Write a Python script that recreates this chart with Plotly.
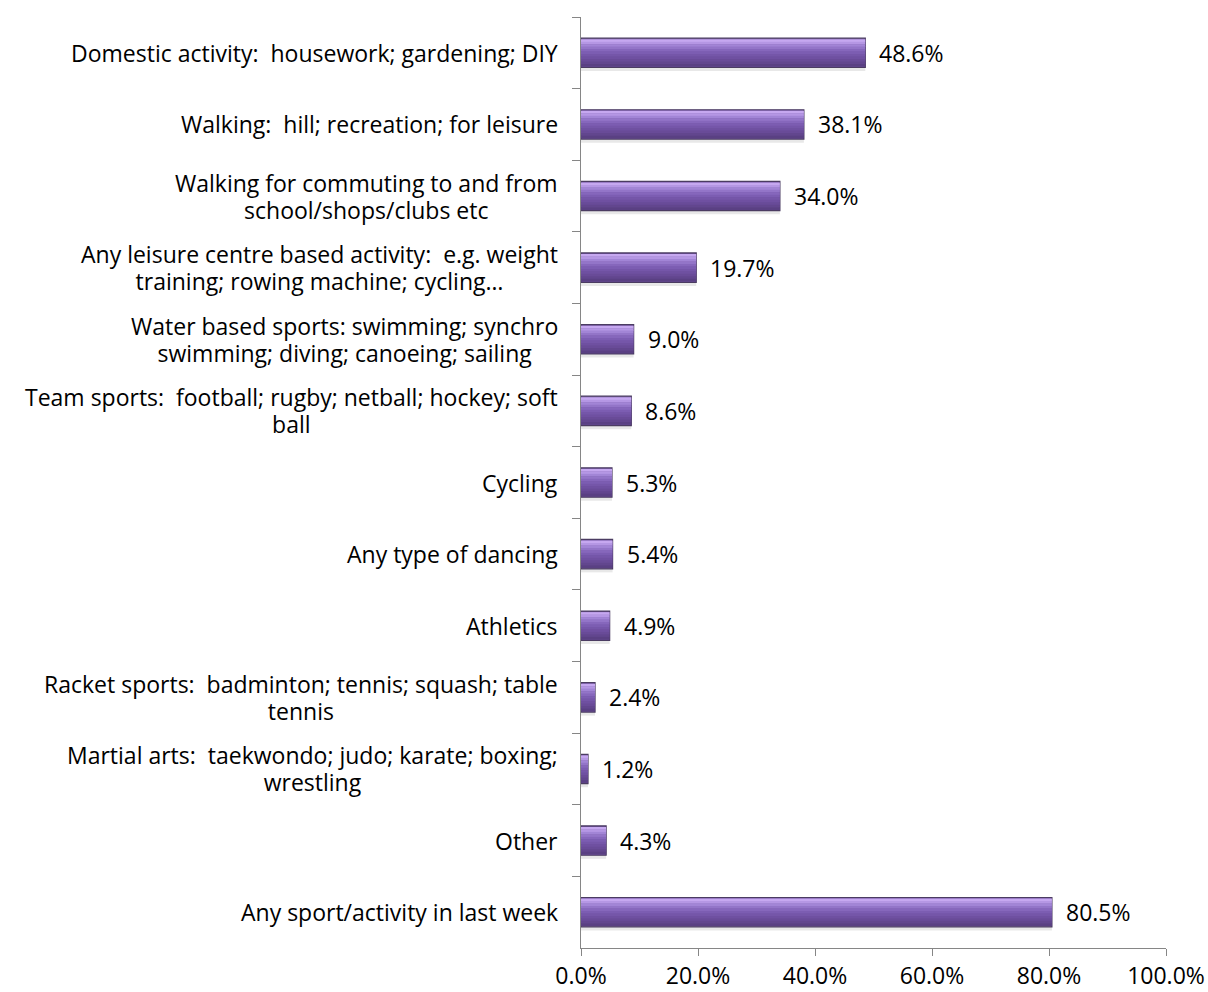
import plotly.graph_objects as go

# Activities, top to bottom
categories = [
    "Domestic activity:  housework; gardening; DIY",
    "Walking:  hill; recreation; for leisure",
    "Walking for commuting to and from<br>school/shops/clubs etc",
    "Any leisure centre based activity:  e.g. weight<br>training; rowing machine; cycling…",
    "Water based sports: swimming; synchro<br>swimming; diving; canoeing; sailing",
    "Team sports:  football; rugby; netball; hockey; soft<br>ball",
    "Cycling",
    "Any type of dancing",
    "Athletics",
    "Racket sports:  badminton; tennis; squash; table<br>tennis",
    "Martial arts:  taekwondo; judo; karate; boxing;<br>wrestling",
    "Other",
    "Any sport/activity in last week",
]
percent = [48.6, 38.1, 34.0, 19.7, 9.0, 8.6, 5.3, 5.4, 4.9, 2.4, 1.2, 4.3, 80.5]
x_ticks = [0, 20, 40, 60, 80, 100]
x_tick_labels = ["0.0%", "20.0%", "40.0%", "60.0%", "80.0%", "100.0%"]

FONT = "Open Sans"
GLYPH = 23        # glyph size of all texts
LINE_BASE = 20.5  # base size, sets the spacing of two-line labels
keys = [f"c{i}" for i in range(len(categories))]


def sized(text, px):
    return "<br>".join(f'<span style="font-size:{px}px">{part}</span>' for part in text.split("<br>"))


fig = go.Figure()

# soft drop shadow under each bar
fig.add_trace(go.Bar(
    y=keys, x=percent, orientation="h",
    marker=dict(color="rgba(0,0,0,0.09)", line=dict(width=0)),
    width=0.05, offset=0.205, hoverinfo="skip",
))
# bar body with dark outline
fig.add_trace(go.Bar(
    y=keys, x=percent, orientation="h",
    marker=dict(color="#6E509C", line=dict(color="#4B3C62", width=1.2)),
    width=0.41, offset=-0.205,
))
# vertical shading, light at the top to dark at the bottom (reversed axis: negative offset is up)
shade = ["#C6A8F0", "#B597E4", "#A285D6", "#9375C8", "#8667BC",
         "#7C5DB2", "#7556A9", "#6F50A1", "#694B98", "#62468E", "#5A4083"]
top, bottom = -0.19, 0.19
step = (bottom - top) / len(shade)
for i, col in enumerate(shade):
    fig.add_trace(go.Bar(
        y=keys, x=percent, orientation="h",
        marker=dict(color=col, line=dict(width=0)),
        width=step + 0.004, offset=top + i * step, hoverinfo="skip",
    ))

# value labels to the right of each bar
for k, v in zip(keys, percent):
    fig.add_annotation(
        x=v, xref="x", y=k, yref="y", text=sized(f"{v:.1f}%", GLYPH), showarrow=False,
        xanchor="left", yanchor="middle", xshift=12,
        font=dict(family=FONT, size=LINE_BASE, color="#000000"),
    )

# category labels, centred line-by-line and right-anchored at the axis
for k, label in zip(keys, categories):
    fig.add_annotation(
        x=0, xref="paper", y=k, yref="y", text=sized(label, GLYPH), showarrow=False,
        xanchor="right", yanchor="middle", align="center", xshift=-21,
        font=dict(family=FONT, size=LINE_BASE, color="#000000"),
    )

fig.update_layout(
    width=1208, height=992,
    margin=dict(l=581, r=42, t=17, b=44, autoexpand=False),
    paper_bgcolor="white", plot_bgcolor="white",
    barmode="overlay", showlegend=False,
)
fig.update_xaxes(
    range=[0, 100], tickvals=x_ticks, ticktext=x_tick_labels, automargin=False,
    showgrid=False, zeroline=False, showline=True, linecolor="#868686", linewidth=1.3,
    ticks="outside", ticklen=7, tickcolor="#868686",
    tickfont=dict(family=FONT, size=GLYPH, color="#000000"),
)
fig.update_yaxes(
    categoryorder="array", categoryarray=keys, autorange="reversed", automargin=False,
    showticklabels=False, showgrid=False, zeroline=False,
    showline=True, linecolor="#868686", linewidth=1.3,
    ticks="outside", ticklen=8, tickcolor="#868686", tickson="boundaries",
)

fig.write_html("out.html")
